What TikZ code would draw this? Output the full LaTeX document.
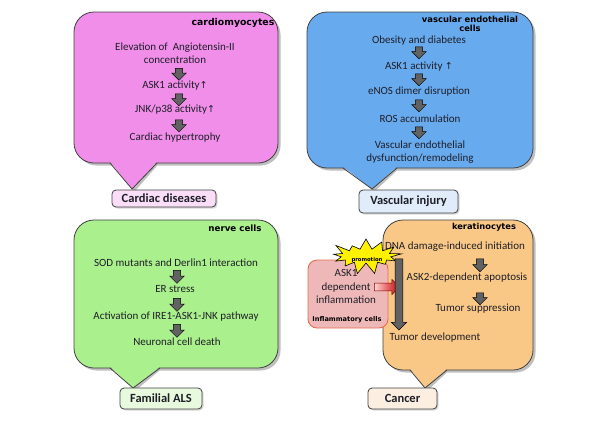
\documentclass[tikz,border=0pt]{standalone}
\usepackage{fontspec}
\setmainfont{Carlito}
\newfontfamily\heavy{DejaVu Sans}
\newfontfamily\arrfont{DejaVu Sans}
\usetikzlibrary{shapes.arrows,shapes.symbols,shadows,calc}
\definecolor{pinkf}{RGB}{240,142,234}
\definecolor{bluef}{RGB}{104,170,238}
\definecolor{greenf}{RGB}{170,240,140}
\definecolor{orangef}{RGB}{250,200,134}
\definecolor{pinkl}{RGB}{250,222,248}
\definecolor{bluel}{RGB}{224,236,250}
\definecolor{greenl}{RGB}{232,250,222}
\definecolor{orangel}{RGB}{252,238,224}
\definecolor{inflf}{RGB}{238,184,184}
\definecolor{infld}{RGB}{228,110,80}
\definecolor{arrf}{RGB}{98,98,98}
\definecolor{bord}{RGB}{64,64,64}
\definecolor{textc}{RGB}{30,30,40}
\newcommand\mycallout[9]{%
  \fill[black!25, rounded corners=20] (#1+2.5,#2+2.5) rectangle (#3+2.5,#4+2.5);
  \fill[black!25] (#5+2.5,#4) -- (#7+2.5,#8+2.5) -- (#6+2.5,#4) -- cycle;
  \filldraw[fill=#9, draw=bord, line width=0.8, rounded corners=20] (#1,#2) rectangle (#3,#4);
  \fill[#9] (#5,#4-1.5) -- (#7,#8) -- (#6,#4-1.5) -- cycle;
  \draw[bord, line width=0.8] (#5,#4) -- (#7,#8) -- (#6,#4);
}
\tikzset{
  body/.style={font=\fontsize{11}{13.5}\selectfont, text=textc, inner sep=1pt, align=center},
  cellname/.style={font=\heavy\bfseries\fontsize{#1}{#1}\selectfont, text=black, inner sep=0pt, align=center},
  darr/.style={single arrow, draw=black, fill=arrf, line width=0.5pt, shape border rotate=270,
    inner sep=3.4pt, minimum height=#1, minimum width=14.5pt, single arrow head extend=3.5pt},
  labelbox/.style={draw=bord, line width=0.8pt, rounded corners=4pt, text=textc, inner sep=0pt,
    font=\bfseries\fontsize{12.5}{14}\selectfont,
    drop shadow={shadow xshift=1.5pt, shadow yshift=-1.5pt, fill=black!30}}
}
\begin{document}
\begin{tikzpicture}[x=1pt, y=-1pt]
\useasboundingbox (0,0) rectangle (600,424);
% callouts
\mycallout{74}{12}{278}{163}{110}{157}{132}{189}{pinkf}
\mycallout{307}{12}{533}{168}{343}{397}{372}{189}{bluef}
\mycallout{74}{220}{278}{368}{110}{160}{133}{388}{greenf}
\mycallout{383}{220}{533}{370}{410}{447}{425}{388}{orangef}
% labels
\node[labelbox, fill=pinkl, minimum width=104pt, minimum height=17pt] (lcard) at (164,198.5) {Cardiac diseases};
\node[labelbox, fill=bluel, minimum width=99pt, minimum height=23pt] (lvasc) at (408.5,201.5) {Vascular injury};
\node[labelbox, fill=greenl, minimum width=82pt, minimum height=21pt] (lals) at (161,398.5) {Familial ALS};
\node[labelbox, fill=orangel, minimum width=69pt, minimum height=21pt] (lcan) at (402.5,398.5) {Cancer};
% cardiomyocytes
\node[cellname=9.3] (cm) at (233,23) {cardiomyocytes};
\node[body] (c1) at (175,53) {Elevation of\ \ Angiotensin-II\\concentration};
\node[darr=12pt] (ca1) at (179,72.5) {};
\node[body] (c2) at (175,86) {ASK1 activity{\arrfont\fontsize{9.5}{10}\selectfont ↑}};
\node[darr=12pt] (ca2) at (179,98) {};
\node[body] (c3) at (175,110) {JNK/p38 activity{\arrfont\fontsize{9.5}{10}\selectfont ↑}};
\node[darr=12pt] (ca3) at (179,124) {};
\node[body] (c4) at (175,138) {Cardiac hypertrophy};
% vascular
\node[cellname=8.4] (ve) at (470,24) {vascular endothelial\\[1pt]cells};
\node[body] (v1) at (419,41) {Obesity and diabetes};
\node[darr=12pt] (va1) at (419,51) {};
\node[body] (v2) at (419,67) {ASK1 activity {\arrfont\fontsize{9.5}{10}\selectfont ↑}};
\node[darr=12pt] (va2) at (419,78) {};
\node[body] (v3) at (419,92) {eNOS dimer disruption};
\node[darr=12pt] (va3) at (419,104) {};
\node[body] (v4) at (420,119) {ROS accumulation};
\node[darr=12pt] (va4) at (419,131) {};
\node[body] (v5) at (420,152) {Vascular endothelial\\dysfunction/remodeling};
% nerve
\node[cellname=8.7] (nc) at (235,228) {nerve cells};
\node[body] (n1) at (176,263) {SOD mutants and Derlin1 interaction};
\node[darr=13pt] (na1) at (177,275) {};
\node[body] (n2) at (175,289) {ER stress};
\node[darr=13pt] (na2) at (177,303) {};
\node[body] (n3) at (176,317) {Activation of IRE1-ASK1-JNK pathway};
\node[darr=13pt] (na3) at (177,329) {};
\node[body] (n4) at (177,342) {Neuronal cell death};
% cancer
\node[cellname=8.3] (kc) at (484,227) {keratinocytes};
\node[body] (k1) at (455,247) {DNA damage-induced initiation};
\node[darr=13pt] (ka1) at (480,263.5) {};
\node[body] (k2) at (467,278) {ASK2-dependent apoptosis};
\node[darr=12pt] (ka2) at (480,297) {};
\node[body] (k3) at (478,309) {Tumor suppression};
\node[body] (k4) at (435,338) {Tumor development};
% inflammatory cells
\node[draw=infld, fill=inflf, rounded corners=9pt, line width=0.9pt, minimum width=80pt, minimum height=68pt, inner sep=0pt] (infl) at (348,294) {};
\node[body] (i1) at (346,286.5) {ASK1\\dependent\\inflammation};
\node[cellname=6.6] (ic) at (347,320) {Inflammatory cells};
\pgfmathsetseed{11}
\node[starburst, fill=yellow, draw=black, line width=0.6pt, minimum width=74pt, minimum height=38pt,
  starburst point height=12pt, starburst points=13, random starburst=60, inner sep=0pt] (promo) at (366,256) {};
\node[cellname=5.3] (promotxt) at (367,260) {promotion};
\node[single arrow, draw=red!50!black, left color=pink!70, right color=red!80!black, line width=0.5pt,
  minimum height=25pt, minimum width=15pt, inner sep=3.6pt, single arrow head extend=3.5pt] (redarr) at (385,287) {};
\node[darr=71pt, minimum width=15pt] (longarr) at (399,292.5) {};
\end{tikzpicture}
\end{document}
